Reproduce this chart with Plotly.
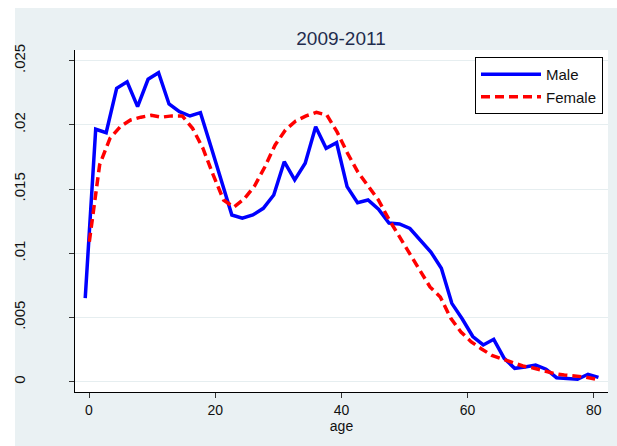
import plotly.graph_objects as go

# Kernel density estimates by age, 2009-2011
male_age = [-0.6, 1.06, 2.72, 4.38, 6.04, 7.7, 9.36, 11.02, 12.68, 14.34,
            16.0, 17.66, 19.32, 20.98, 22.64, 24.3, 25.96, 27.62, 29.28, 30.94,
            32.6, 34.26, 35.92, 37.58, 39.24, 40.9, 42.56, 44.22, 45.88, 47.54,
            49.2, 50.86, 52.52, 54.18, 55.84, 57.5, 59.16, 60.82, 62.48, 64.14,
            65.8, 67.46, 69.12, 70.78, 72.44, 74.1, 75.76, 77.42, 79.08, 80.74]
male_density = [0.0065, 0.01966, 0.01939, 0.02285, 0.02336, 0.02142, 0.02355, 0.02406, 0.02163, 0.02103,
                 0.02069, 0.02095, 0.01831, 0.01567, 0.01298, 0.01273, 0.01298, 0.0135, 0.01454, 0.01713,
                 0.01571, 0.01701, 0.01986, 0.01818, 0.01861, 0.01519, 0.01394, 0.01415, 0.01343, 0.01236,
                 0.01228, 0.01193, 0.01104, 0.0101, 0.00883, 0.0061, 0.00488, 0.00352, 0.00286, 0.0033,
                 0.00182, 0.00104, 0.00114, 0.0013, 0.00097, 0.00031, 0.00025, 0.00019, 0.00058, 0.00034]

female_age = [0.05, 1.69, 3.32, 4.96, 6.59, 8.23, 9.87, 11.5, 13.14, 14.77,
              16.41, 18.05, 19.68, 21.32, 22.95, 24.59, 26.23, 27.86, 29.5, 31.13,
              32.77, 34.41, 36.04, 37.68, 39.31, 40.95, 42.59, 44.22, 45.86, 47.49,
              49.13, 50.77, 52.4, 54.04, 55.67, 57.31, 58.95, 60.58, 62.22, 63.85,
              65.49, 67.13, 68.76, 70.4, 72.03, 73.67, 75.31, 76.94, 78.58, 80.21]
female_density = [0.0109, 0.0169, 0.01895, 0.01986, 0.02038, 0.0206, 0.02075, 0.0206, 0.0207, 0.0207,
                  0.01973, 0.01818, 0.0161, 0.01415, 0.0136, 0.01423, 0.01524, 0.01672, 0.01844, 0.0196,
                  0.0203, 0.0207, 0.02097, 0.02077, 0.01945, 0.01781, 0.01634, 0.01525, 0.01415, 0.01267,
                  0.01135, 0.0101, 0.0087, 0.00738, 0.0066, 0.00496, 0.00387, 0.0031, 0.00255, 0.00204,
                  0.00177, 0.0015, 0.00122, 0.00107, 0.00083, 0.00064, 0.00052, 0.00044, 0.00037, 0.00021]

y_ticks = [0, 0.005, 0.01, 0.015, 0.02, 0.025]
y_tick_labels = ["0", ".005", ".01", ".015", ".02", ".025"]
x_ticks = [0, 20, 40, 60, 80]

W, H = 617, 446
L, R, T, B = 75, 9, 50, 54
pw, ph = W - L - R, H - T - B

def px_x(px):
    return (px - L) / pw

def px_y(py):
    return (H - B - py) / ph

BG = "#EAF1F3"

fig = go.Figure()
fig.add_trace(go.Scatter(x=male_age, y=male_density, mode="lines", name="Male",
                         line=dict(color="#0000FF", width=3.5)))
fig.add_trace(go.Scatter(x=female_age, y=female_density, mode="lines", name="Female",
                         line=dict(color="#FF0000", width=3.5, dash="9px,5px")))

fig.update_layout(
    width=W, height=H,
    margin=dict(l=L, r=R, t=T, b=B, pad=0),
    paper_bgcolor=BG,
    plot_bgcolor="white",
    font=dict(family="Liberation Sans, Arial, sans-serif", size=14, color="#111111"),
    title=dict(text="2009-2011", x=341 / W, xanchor="center", xref="container",
               y=1 - 38 / H, yanchor="middle", yref="container",
               font=dict(size=19, color="#1f2c4d")),
    showlegend=True,
    legend=dict(x=px_x(603), xanchor="right", y=px_y(57), yanchor="top",
                bgcolor="white", bordercolor="black", borderwidth=1,
                itemwidth=60,
                font=dict(size=15, color="#111111"), tracegroupgap=0),
    shapes=[
        dict(type="rect", xref="paper", yref="paper", x0=px_x(0), x1=px_x(15),
             y0=px_y(H), y1=px_y(0), fillcolor="white", line=dict(width=0), layer="below"),
        dict(type="rect", xref="paper", yref="paper", x0=px_x(0), x1=px_x(W),
             y0=px_y(8), y1=px_y(0), fillcolor="white", line=dict(width=0), layer="below"),
    ],
)

fig.update_xaxes(
    range=[-2.22, 82.25], tickvals=x_ticks, ticks="outside", ticklen=5, tickwidth=1,
    tickcolor="#333333", showgrid=False, zeroline=False, showline=True,
    linecolor="black", linewidth=1.3, tickfont=dict(size=14),
    title=dict(text="age", font=dict(size=14), standoff=2),
)
fig.update_yaxes(
    range=[-0.000802, 0.02583], tickvals=y_ticks, ticktext=y_tick_labels,
    ticks="outside", ticklen=5, tickwidth=1, tickcolor="#333333",
    showgrid=True, gridcolor="#E6EEF0", gridwidth=1, zeroline=False,
    showline=True, linecolor="black", linewidth=1.3, tickangle=-90,
    ticklabelstandoff=38,
    tickfont=dict(size=15),
)

fig.write_html("out.html")
